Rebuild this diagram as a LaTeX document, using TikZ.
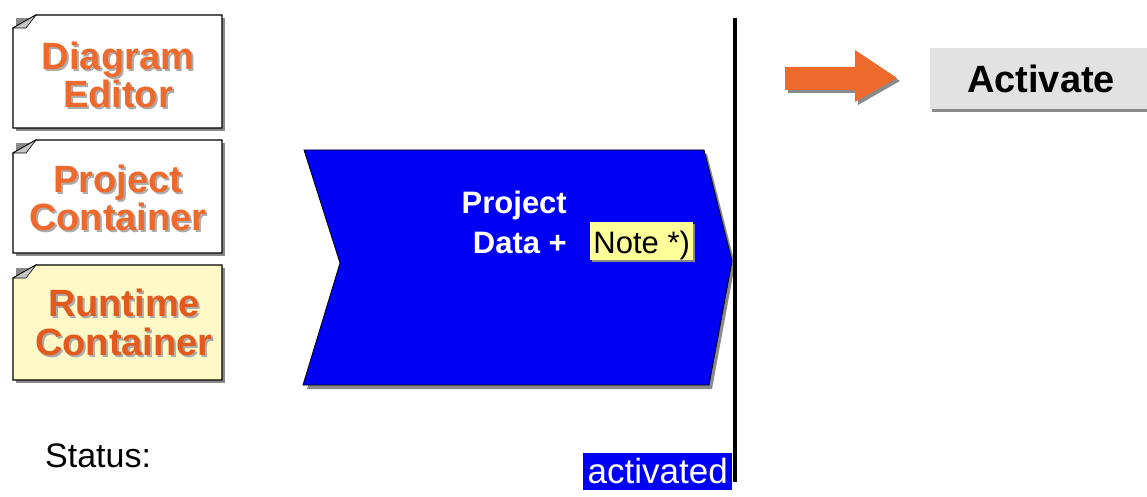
\documentclass[tikz,border=0pt]{standalone}
\usepackage{fontspec}
\setmainfont{Liberation Sans}
\definecolor{labelorange}{HTML}{EE6A2C}
\definecolor{runtimeorange}{HTML}{E35A1E}
\definecolor{chevronblue}{HTML}{0000F5}
\definecolor{noteyellow}{HTML}{FFFF99}
\definecolor{runtimeyellow}{HTML}{FFF9C8}
\definecolor{dropshadow}{HTML}{8A8A8A}
\definecolor{buttongray}{HTML}{E2E2E2}
\tikzset{
  panel/.style={draw=black, line width=1.2pt, fill=white},
  panelshadow/.style={fill=dropshadow},
  curl/.style={draw=black, line width=0.6pt, fill=gray!45},
  boxlabel/.style={align=center, inner sep=0pt, text=labelorange,
    font=\fontsize{38}{38}\selectfont\bfseries},
  boxlabelshadow/.style={boxlabel, text=gray!65},
  whitelabel/.style={align=right, inner sep=0pt, text=white,
    font=\fontsize{31}{40}\selectfont\bfseries},
  plain/.style={inner sep=0pt, font=\fontsize{31}{32}\selectfont},
}
\begin{document}
\begin{tikzpicture}[x=1pt,y=-1pt]
\useasboundingbox (0,0) rectangle (1147,497);

% three stacked container panels with a curled top-left corner
\foreach \t/\b/\f in {15/128/white, 140/253/white, 265/380/runtimeyellow}{
  \fill[panelshadow] (16,\t+3) rectangle (225,\b+3);
  \filldraw[panel, fill=\f] (13,\t+13) -- (36,\t) -- (222,\t) -- (222,\b) -- (13,\b) -- cycle;
  \filldraw[curl] (13,\t+13) -- (36,\t) -- (26,\t+13) -- cycle;
}
\node[boxlabelshadow] (editorS) at (120,77) {Diagram\\Editor};
\node[boxlabel] (editor) at (118,75) {Diagram\\Editor};
\node[boxlabelshadow] (projectS) at (120,199.5) {Project\\Container};
\node[boxlabel] (project) at (118,197.5) {Project\\Container};
\node[boxlabelshadow, font=\fontsize{38}{39}\selectfont\bfseries] (runtimeS) at (126,324.5) {Runtime\\Container};
\node[boxlabel, text=runtimeorange, font=\fontsize{38}{39}\selectfont\bfseries] (runtime) at (124,322.5) {Runtime\\Container};

% blue chevron for the project data
\fill[dropshadow] (307,154) -- (707,154) -- (735,264) -- (712,389) -- (307,389) -- (344,267) -- cycle;
\filldraw[draw=black, line width=0.8pt, fill=chevronblue]
  (304,150) -- (704,150) -- (732,261) -- (709,385) -- (303,385) -- (340,263) -- cycle;
\node[whitelabel, anchor=base east] (pdata1) at (567,213) {Project};
\node[whitelabel, anchor=base east] (pdata2) at (567,253) {Data +};
\fill[dropshadow] (592,224) rectangle (695,262);
\node[fill=noteyellow, minimum width=103pt, minimum height=38pt, inner sep=0pt,
  anchor=north west] (note) at (590,222) {};
\node[plain, anchor=base] (notetext) at (note.center |- 0,253) {Note *)};

% separator line
\coordinate (lineTop) at (735,18);
\coordinate (lineBot) at (735,482);
\draw[line width=4pt] (lineTop) -- (lineBot);

% status row
\node[plain, anchor=base west, font=\fontsize{34}{36}\selectfont] (status) at (45,467) {Status:};
\node[fill=chevronblue, text=white, inner sep=0pt, minimum width=149pt,
  minimum height=37pt, anchor=north west] (activated) at (583,453) {};
\node[plain, anchor=base, text=white, font=\fontsize{35}{36}\selectfont] (activatedtext)
  at (activated.center |- 0,483) {activated};

% orange pointer and the button
\fill[dropshadow] (788,70) -- (858,70) -- (858,53) -- (900,81) -- (858,105) -- (858,93) -- (788,93) -- cycle;
\fill[labelorange] (785,67) -- (855,67) -- (855,50) -- (897,78) -- (855,102) -- (855,90) -- (785,90) -- cycle;
\fill[dropshadow] (932,51) rectangle (1150,112);
\fill[buttongray] (930,48) rectangle (1150,109);
\node[anchor=base, inner sep=0pt, font=\fontsize{38}{40}\selectfont\bfseries] (activate)
  at (1041,93) {Activate};
\end{tikzpicture}
\end{document}
